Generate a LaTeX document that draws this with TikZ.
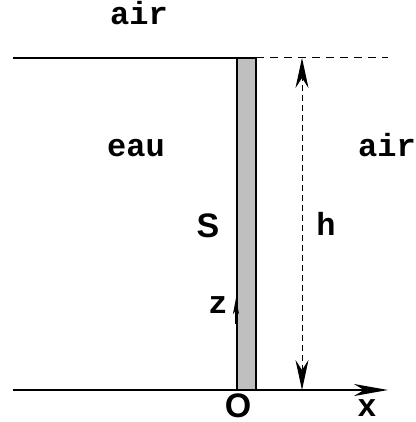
\documentclass[tikz,border=0pt]{standalone}
\usepackage{fontspec}
\setmainfont{Liberation Sans}
\newfontfamily\monofont{Liberation Mono}
\usetikzlibrary{arrows.meta, positioning}

\begin{document}
\begin{tikzpicture}[
    x=0.5pt, y=-0.5pt,
    wall/.style={line width=1pt},
    guide/.style={line width=0.5pt, dashed, dash pattern=on 4pt off 3pt},
    plate/.style={draw, line width=1pt, fill=black!25},
    axis/.style={line width=1pt, -{Stealth[length=17pt, width=6pt, inset=5pt]}},
    hdim/.style={line width=0.5pt, dashed, dash pattern=on 3pt off 2pt,
        {Stealth[length=15pt, width=6.5pt, inset=5pt]}-{Stealth[length=15pt, width=6.5pt, inset=5pt]}},
    zaxis/.style={line width=1pt, -{Stealth[length=8pt, width=3pt, inset=2pt]}},
    medium/.style={font=\fontsize{16pt}{16pt}\monofont\bfseries, anchor=base},
    letter/.style={font=\bfseries\fontsize{17pt}{17pt}\selectfont, anchor=base}
]
\useasboundingbox (0,0) rectangle (416,422);

% free surface and ground
\coordinate (surfL) at (13,58);
\coordinate (surfP) at (256,58);
\coordinate (surfR) at (388,58);
\coordinate (baseL) at (13,390);
\coordinate (baseR) at (388,390);

% plate S
\draw[plate] (237,58) rectangle (256,390);
\draw[wall] (surfL) -- (surfP);
\draw[guide] (surfP) -- (surfR);
\draw[axis] (baseL) -- (baseR);

% height h
\coordinate (htop) at (302,58);
\coordinate (hbot) at (302,390);
\draw[hdim] (hbot) -- (htop);

% z axis
\coordinate (zfrom) at (236,324);
\coordinate (zto) at (236,298);
\draw[zaxis] (zfrom) -- (zto);

% labels
\node[medium] (airtop) at (139,25) {air};
\node[medium] (eau) at (136,157) {eau};
\node[medium] (airright) at (387,157) {air};
\node[letter] (S) at (208,237) {S};
\node[medium] (h) at (326,235) {h};
\node[medium] (z) at (218,313) {z};
\node[letter] (O) at (238,417) {O};
\node[medium] (x) at (367,416) {x};
\end{tikzpicture}
\end{document}
